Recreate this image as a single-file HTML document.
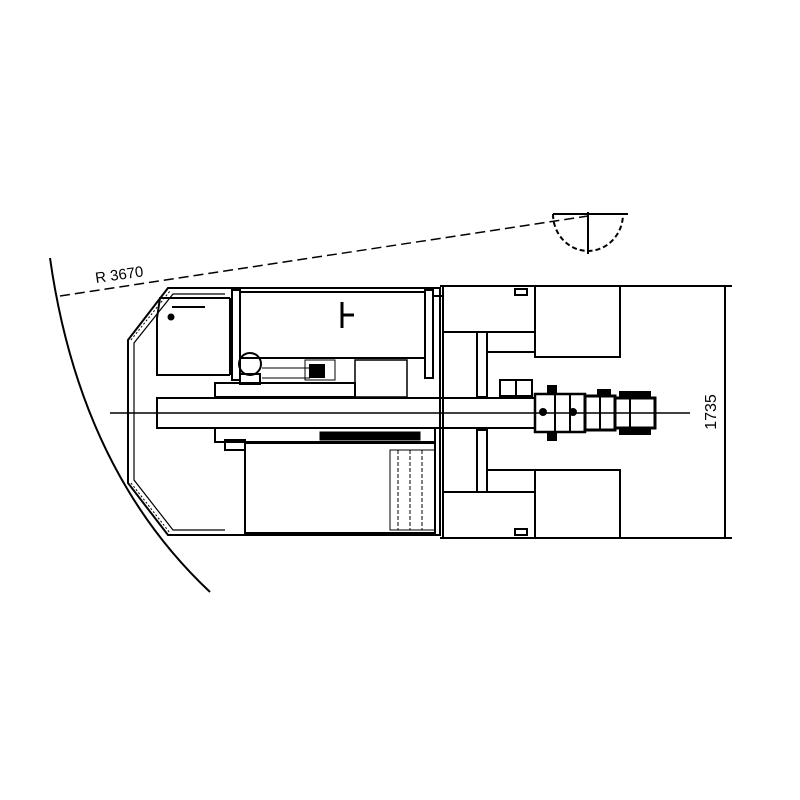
<!DOCTYPE html>
<html><head><meta charset="utf-8"><style>html,body{margin:0;padding:0;background:#fff}svg{display:block}</style></head>
<body>
<svg width="800" height="800" viewBox="0 0 800 800" xmlns="http://www.w3.org/2000/svg" fill="none" stroke="#000" stroke-width="2">
<path d="M50,258 Q80,470 210,592" stroke-width="2"/>
<line x1="60" y1="296" x2="588" y2="216" stroke-dasharray="10,5" stroke-width="1.5"/>
<text x="96" y="283" font-family="Liberation Sans, sans-serif" font-size="15" fill="#000" stroke="none" transform="rotate(-8 96 283)">R 3670</text>
<line x1="553" y1="214" x2="628" y2="214"/>
<path d="M553,214 A35,37 0 0 0 623,214" stroke-dasharray="5,3"/>
<line x1="588" y1="212" x2="588" y2="254"/>
<line x1="440" y1="286" x2="732" y2="286"/>
<line x1="440" y1="538" x2="732" y2="538"/>
<line x1="725" y1="286" x2="725" y2="538"/>
<text x="716" y="412" font-family="Liberation Sans, sans-serif" font-size="16" fill="#000" stroke="none" text-anchor="middle" transform="rotate(-90 716 412)">1735</text>
<rect x="535" y="286" width="85" height="71"/>
<rect x="535" y="470" width="85" height="68"/>
<polyline points="535,332 443,332 443,492 535,492"/>
<line x1="443" y1="286" x2="443" y2="332"/>
<line x1="443" y1="492" x2="443" y2="538"/>
<rect x="477" y="332" width="10" height="65"/>
<rect x="477" y="430" width="10" height="62"/>
<line x1="487" y1="352" x2="535" y2="352"/>
<line x1="487" y1="470" x2="535" y2="470"/>
<rect x="515" y="289" width="12" height="6"/>
<rect x="515" y="529" width="12" height="6"/>
<polygon points="168,288 440,288 440,535 168,535 128,483 128,340" stroke-width="2"/>
<polyline points="225,294 173,294 134,343 134,480 173,530 225,530" stroke-width="1.2"/>
<line x1="131" y1="340" x2="170" y2="291" stroke-width="1" stroke-dasharray="2,2"/>
<line x1="131" y1="483" x2="170" y2="533" stroke-width="1" stroke-dasharray="2,2"/>
<polyline points="230,298 160,298 157,318 157,375 230,375"/>
<line x1="230" y1="298" x2="230" y2="375"/>
<line x1="172" y1="307" x2="205" y2="307"/>
<circle cx="171" cy="317" r="2.5" fill="#000"/>
<rect x="240" y="292" width="185" height="66"/>
<rect x="232" y="290" width="8" height="90"/>
<rect x="425" y="290" width="8" height="88"/>
<line x1="434" y1="296" x2="443" y2="296"/>
<path d="M342,302 v26 M342,315 h12" stroke-width="3"/>
<circle cx="250" cy="364" r="11"/>
<rect x="240" y="374" width="20" height="10"/>
<rect x="215" y="383" width="140" height="14"/>
<rect x="305" y="360" width="30" height="20" stroke-width="1"/>
<rect x="355" y="360" width="52" height="37" stroke-width="1.5"/>
<line x1="262" y1="368" x2="310" y2="368" stroke-width="1"/>
<line x1="262" y1="378" x2="310" y2="378" stroke-width="1"/>
<rect x="310" y="365" width="14" height="12" fill="#000"/>
<rect x="215" y="428" width="220" height="14"/>
<rect x="225" y="440" width="20" height="10"/>
<rect x="320" y="432" width="100" height="8" fill="#000" stroke-width="1"/>
<rect x="245" y="443" width="190" height="90"/>
<rect x="390" y="450" width="45" height="80" stroke-width="1"/>
<line x1="398" y1="450" x2="398" y2="530" stroke-width="1" stroke-dasharray="4,2"/>
<line x1="410" y1="450" x2="410" y2="530" stroke-width="1" stroke-dasharray="4,2"/>
<line x1="422" y1="450" x2="422" y2="530" stroke-width="1" stroke-dasharray="4,2"/>
<rect x="157" y="398" width="378" height="30"/>
<line x1="110" y1="413" x2="690" y2="413" stroke-width="1.5"/>
<rect x="500" y="380" width="32" height="16"/>
<line x1="516" y1="380" x2="516" y2="396"/>
<rect x="535" y="394" width="50" height="38" stroke-width="2.5"/>
<line x1="555" y1="394" x2="555" y2="432"/>
<line x1="570" y1="394" x2="570" y2="432"/>
<rect x="585" y="396" width="30" height="34" stroke-width="3"/>
<rect x="615" y="398" width="40" height="30" stroke-width="3"/>
<line x1="600" y1="396" x2="600" y2="430"/>
<line x1="630" y1="398" x2="630" y2="428"/>
<rect x="548" y="386" width="8" height="8" fill="#000"/>
<rect x="548" y="432" width="8" height="8" fill="#000"/>
<rect x="598" y="390" width="12" height="6" fill="#000"/>
<rect x="620" y="392" width="30" height="6" fill="#000"/>
<rect x="620" y="428" width="30" height="6" fill="#000"/>
<circle cx="543" cy="412" r="3" fill="#000"/>
<circle cx="573" cy="412" r="3" fill="#000"/>
</svg>
</body></html>
